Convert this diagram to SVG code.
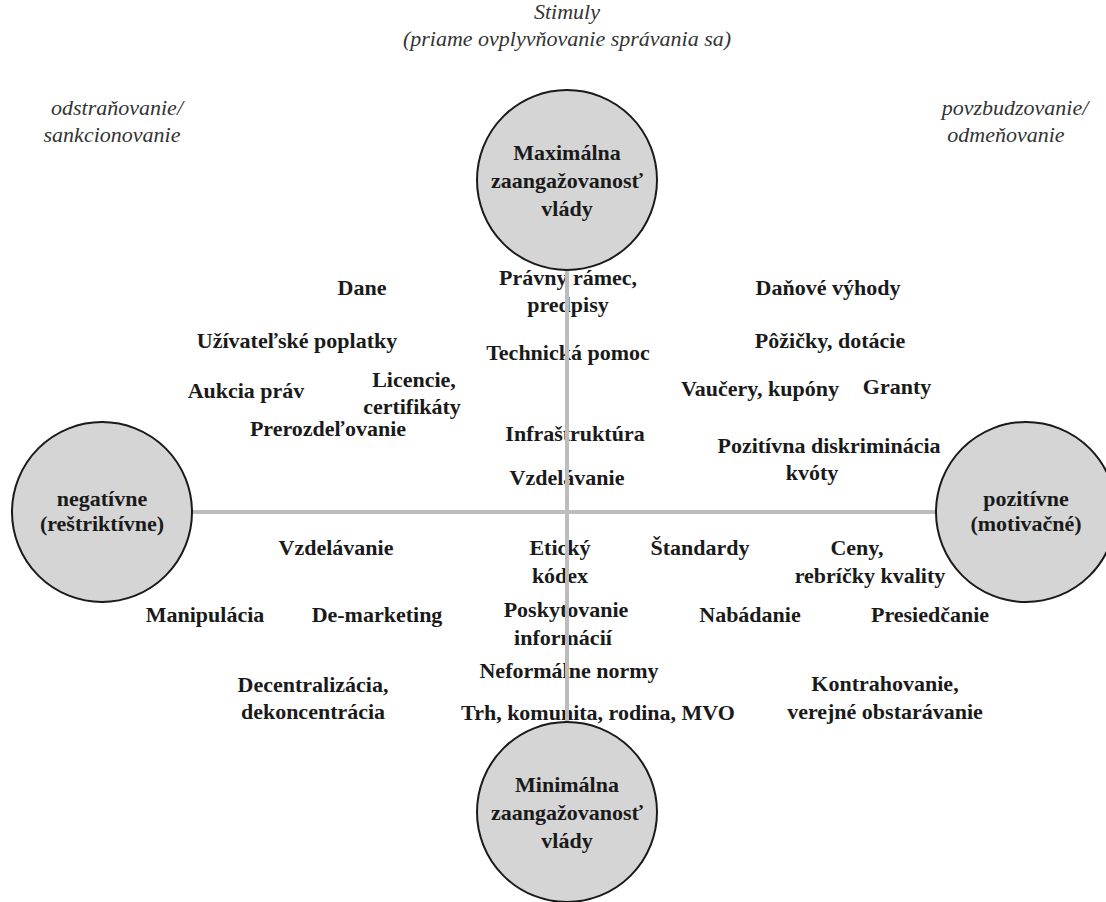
<svg xmlns="http://www.w3.org/2000/svg" width="1106" height="902" viewBox="0 0 1106 902">
<style>
.bg{fill:#ffffff}
.node circle{fill:#d5d5d5;stroke:#1a1a1a;stroke-width:2}
.conn line{stroke:#bcbcbc;stroke-width:4}
text{fill:#1a1a1a;text-anchor:middle}
.b{font-weight:bold;font-size:22px}
.i{font-style:italic;font-size:22px;fill:#333333}
</style>
<rect class="bg" x="0" y="0" width="1106" height="902"/>
<g id="headers" font-family="Liberation Serif, Tinos, Times New Roman, DejaVu Serif, FreeSerif, Nimbus Roman, serif">
<text class="i" x="567" y="19">Stimuly</text>
<text class="i" x="567" y="46">(priame ovplyvňovanie správania sa)</text>
<text class="i" x="117" y="115">odstraňovanie/</text>
<text class="i" x="112" y="142">sankcionovanie</text>
<text class="i" x="1015" y="115">povzbudzovanie/</text>
<text class="i" x="1006" y="142">odmeňovanie</text>
</g>
<g id="labels" font-family="Liberation Serif, Tinos, Times New Roman, DejaVu Serif, FreeSerif, Nimbus Roman, serif">
<text class="b" x="362" y="295">Dane</text>
<text class="b" x="568" y="285">Právny rámec,</text>
<text class="b" x="568" y="312">predpisy</text>
<text class="b" x="828" y="295">Daňové výhody</text>
<text class="b" x="297" y="348">Užívateľské poplatky</text>
<text class="b" x="568" y="360">Technická pomoc</text>
<text class="b" x="830" y="348">Pôžičky, dotácie</text>
<text class="b" x="246" y="398">Aukcia práv</text>
<text class="b" x="414" y="387">Licencie,</text>
<text class="b" x="412" y="414">certifikáty</text>
<text class="b" x="760" y="396">Vaučery, kupóny</text>
<text class="b" x="897" y="394">Granty</text>
<text class="b" x="328" y="436">Prerozdeľovanie</text>
<text class="b" x="575" y="441">Infraštruktúra</text>
<text class="b" x="829" y="453">Pozitívna diskriminácia</text>
<text class="b" x="812" y="480">kvóty</text>
<text class="b" x="567" y="485">Vzdelávanie</text>
<text class="b" x="336" y="555">Vzdelávanie</text>
<text class="b" x="560" y="555">Etický</text>
<text class="b" x="560" y="583">kódex</text>
<text class="b" x="700" y="555">Štandardy</text>
<text class="b" x="857" y="555">Ceny,</text>
<text class="b" x="870" y="583">rebríčky kvality</text>
<text class="b" x="205" y="622">Manipulácia</text>
<text class="b" x="377" y="622">De-marketing</text>
<text class="b" x="566" y="617">Poskytovanie</text>
<text class="b" x="563" y="645">informácií</text>
<text class="b" x="750" y="622">Nabádanie</text>
<text class="b" x="930" y="622">Presiedčanie</text>
<text class="b" x="569" y="678">Neformálne normy</text>
<text class="b" x="313" y="692">Decentralizácia,</text>
<text class="b" x="313" y="719">dekoncentrácia</text>
<text class="b" x="598" y="720">Trh, komunita, rodina, MVO</text>
<text class="b" x="885" y="691">Kontrahovanie,</text>
<text class="b" x="885" y="719">verejné obstarávanie</text>
</g>
<g id="connectors" class="conn">
<line x1="567" y1="270" x2="567" y2="722"/>
<line x1="192" y1="512" x2="936" y2="512"/>
</g>
<g id="node-max" class="node" font-family="Liberation Serif, Tinos, Times New Roman, DejaVu Serif, FreeSerif, Nimbus Roman, serif">
<circle cx="567" cy="180" r="90"/>
<text class="b" x="567" y="160">Maximálna</text>
<text class="b" x="567" y="188">zaangažovanosť</text>
<text class="b" x="567" y="216">vlády</text>
</g>
<g id="node-neg" class="node" font-family="Liberation Serif, Tinos, Times New Roman, DejaVu Serif, FreeSerif, Nimbus Roman, serif">
<circle cx="102" cy="512" r="90"/>
<text class="b" x="102" y="506">negatívne</text>
<text class="b" x="102" y="531">(reštriktívne)</text>
</g>
<g id="node-poz" class="node" font-family="Liberation Serif, Tinos, Times New Roman, DejaVu Serif, FreeSerif, Nimbus Roman, serif">
<circle cx="1026" cy="512" r="90"/>
<text class="b" x="1026" y="506">pozitívne</text>
<text class="b" x="1026" y="531">(motivačné)</text>
</g>
<g id="node-min" class="node" font-family="Liberation Serif, Tinos, Times New Roman, DejaVu Serif, FreeSerif, Nimbus Roman, serif">
<circle cx="567" cy="812" r="90"/>
<text class="b" x="567" y="792">Minimálna</text>
<text class="b" x="567" y="820">zaangažovanosť</text>
<text class="b" x="567" y="848">vlády</text>
</g>
</svg>
